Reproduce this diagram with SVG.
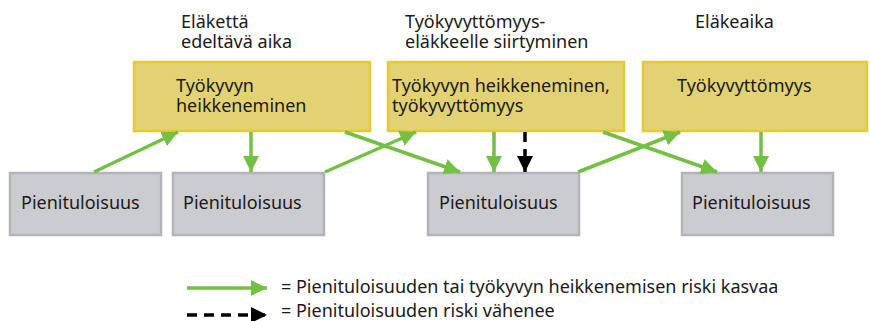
<svg xmlns="http://www.w3.org/2000/svg" width="870" height="321" viewBox="0 0 870 321">
<style>
text{font-family:"Noto Sans","Open Sans","Liberation Sans",sans-serif;font-size:18px;fill:#1a1a1a}
.top{fill:#e2d273;stroke:#e5c936;stroke-width:2.5}
.bot{fill:#cbcccf;stroke:#b3b4b7;stroke-width:2.5}
.g{stroke:#74c045;stroke-width:3.5;fill:none;marker-end:url(#ga)}
.k{stroke:#000;stroke-width:3.5;fill:none;stroke-dasharray:10 7;marker-end:url(#ka)}
</style>
<defs>
<marker id="ga" markerUnits="userSpaceOnUse" markerWidth="18" markerHeight="16" refX="16" refY="8" orient="auto"><path d="M0,0 L16,8 L0,16 Z" fill="#74c045"/></marker>
<marker id="ka" markerUnits="userSpaceOnUse" markerWidth="18" markerHeight="16" refX="16" refY="8" orient="auto"><path d="M0,0 L16,8 L0,16 Z" fill="#000"/></marker>
</defs>
<g id="headers">
<text x="181" y="28">Eläkettä</text><text x="181" y="48">edeltävä aika</text>
<text x="405" y="28">Työkyvyttömyys-</text><text x="405" y="48">eläkkeelle siirtyminen</text>
<text x="695" y="28">Eläkeaika</text>
</g>
<g id="top1"><rect class="top" x="134" y="62" width="236" height="69"/><text x="176" y="92">Työkyvyn</text><text x="176" y="112">heikkeneminen</text></g>
<g id="top2"><rect class="top" x="388" y="62" width="236" height="69"/><text x="392" y="92">Työkyvyn heikkeneminen,</text><text x="392" y="112">työkyvyttömyys</text></g>
<g id="top3"><rect class="top" x="643" y="62" width="224" height="69"/><text x="677" y="92">Työkyvyttömyys</text></g>
<g id="botA"><rect class="bot" x="10" y="173" width="151" height="62"/><text x="21" y="209">Pienituloisuus</text></g>
<g id="botB"><rect class="bot" x="173" y="173" width="151" height="62"/><text x="183" y="209">Pienituloisuus</text></g>
<g id="botC"><rect class="bot" x="428" y="173" width="151" height="62"/><text x="439" y="209">Pienituloisuus</text></g>
<g id="botD"><rect class="bot" x="682" y="173" width="151" height="62"/><text x="692" y="209">Pienituloisuus</text></g>
<g id="connectors">
<line class="g" x1="94" y1="172" x2="178" y2="132"/>
<line class="g" x1="251" y1="132" x2="251" y2="172"/>
<line class="g" x1="325" y1="172" x2="416" y2="132"/>
<line class="g" x1="345" y1="132" x2="460" y2="172"/>
<line class="g" x1="494" y1="132" x2="494" y2="172"/>
<line class="k" x1="525" y1="132" x2="525" y2="172"/>
<line class="g" x1="578" y1="172" x2="680" y2="132"/>
<line class="g" x1="603" y1="132" x2="717" y2="172"/>
<line class="g" x1="761" y1="132" x2="761" y2="172"/>
</g>
<g id="legend">
<line class="g" x1="187" y1="288" x2="267" y2="288"/>
<text x="281" y="293">= Pienituloisuuden tai työkyvyn heikkenemisen riski kasvaa</text>
<line class="k" x1="187" y1="315" x2="267" y2="315"/>
<text x="281" y="317">= Pienituloisuuden riski vähenee</text>
</g>
</svg>
